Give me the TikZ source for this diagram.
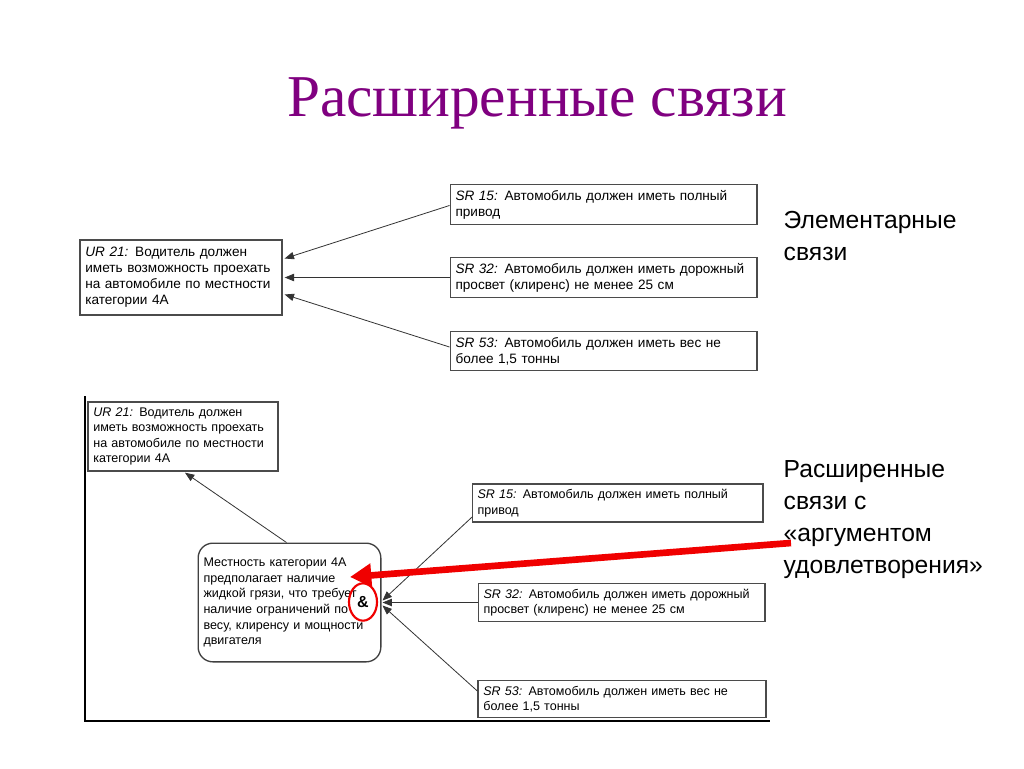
\documentclass[tikz,border=0pt]{standalone}
\usepackage{fontspec}
\setmainfont{Liberation Sans}
\newfontfamily\titlefont{Liberation Serif}
\usetikzlibrary{arrows.meta,calc,shapes.geometric}
\definecolor{titlepurple}{RGB}{128,0,128}
\definecolor{boxline}{RGB}{75,75,75}
\definecolor{redarr}{RGB}{240,0,0}
\tikzset{
  reqA/.style={draw=boxline, line width=1pt, fill=white, align=left, inner sep=4pt,
     font=\fontsize{10.2}{12}\selectfont},
  reqB/.style={draw=boxline, line width=1pt, fill=white, align=left, inner sep=4pt,
     font=\fontsize{9.4}{11.5}\selectfont},
  conn/.style={draw=black!80, line width=0.6pt, -{Triangle[length=7pt,width=5.5pt]}},
  frameline/.style={draw=black, line width=1.4pt},
  redarrow/.style={draw=redarr, line width=5pt, -{Triangle[length=16pt,width=17pt]}},
  sidelabel/.style={anchor=north west, align=left, font=\fontsize{18.5}{24}\selectfont},
}
\begin{document}
\begin{tikzpicture}[x=0.75pt,y=-0.75pt]
\path[fill=white,use as bounding box] (0,0) rectangle (1024,768);

\node[font=\titlefont\fontsize{44.5}{52}\selectfont, text=titlepurple] (title) at (537,103) {Расширенные связи};

% ---- top diagram ----
\node[reqA, text width=143.5pt, minimum height=56.25pt] (UR21a) at (181,277.5)
  {\textit{UR 21:} Водитель должен\\иметь возможность проехать\\на автомобиле по местности\\категории 4А};
\node[reqA, text width=222pt, minimum height=27pt] (SR15a) at (603.5,204.5)
  {\textit{SR 15:} Автомобиль должен иметь полный\\привод};
\node[reqA, text width=222pt, minimum height=27pt] (SR32a) at (603.5,277.5)
  {\textit{SR 32:} Автомобиль должен иметь дорожный\\просвет (клиренс) не менее 25 см};
\node[reqA, text width=222pt, minimum height=27pt] (SR53a) at (603.5,351)
  {\textit{SR 53:} Автомобиль должен иметь вес не\\более 1,5 тонны};

\draw[conn] ($(SR15a.west)+(0,1)$) -- ($(UR21a.east)+(2,-19)$);
\draw[conn] (SR32a.west) -- ($(UR21a.east)+(2,0)$);
\draw[conn] ($(SR53a.west)+(0,-4)$) -- ($(UR21a.east)+(2,17)$);

\node[sidelabel] (lab1) at (779,207) {Элементарные\\связи};

% ---- bottom diagram ----
\coordinate (ftop) at (85,396);
\coordinate (fbl) at (85,721);
\coordinate (fbr) at (770,721);
\draw[frameline] (ftop) -- (fbl) -- (fbr);

\node[reqB, text width=134.5pt, minimum height=51.75pt] (UR21b) at (183,436.5)
  {\textit{UR 21:} Водитель должен\\иметь возможность проехать\\на автомобиле по местности\\категории 4А};
\node[reqB, draw=black!75, rounded corners=11pt, text width=129pt, minimum height=89pt] (M) at (289.5,602.5)
  {\fontsize{9.4}{11.7}\selectfont Местность категории 4А\\предполагает наличие\\жидкой грязи, что требует\\наличие ограничений по\\весу, клиренсу и мощности\\двигателя};
\node[font=\bfseries\fontsize{12}{14}\selectfont, inner sep=0pt] (amp) at (363,602) {\&};
\node[draw=redarr, line width=1.6pt, ellipse, minimum width=21pt, minimum height=28pt, inner sep=0pt] (ring) at (363,602) {};

\node[reqB, text width=210pt, minimum height=25.5pt] (SR15b) at (617.5,503)
  {\textit{SR 15:} Автомобиль должен иметь полный\\привод};
\node[reqB, text width=207pt, minimum height=26pt] (SR32b) at (621.5,602.5)
  {\textit{SR 32:} Автомобиль должен иметь дорожный\\просвет (клиренс) не менее 25 см};
\node[reqB, text width=208pt, minimum height=25.5pt] (SR53b) at (622,699)
  {\textit{SR 53:} Автомобиль должен иметь вес не\\более 1,5 тонны};

\draw[conn] ($(M.north)+(-3,0)$) -- ($(UR21b.south)+(2,1)$);
\draw[conn] ($(SR15b.south west)+(1,-6)$) -- ($(M.east)+(1,-2)$);
\draw[conn] (SR32b.west) -- ($(M.east)+(1,0)$);
\draw[conn] ($(SR53b.west)+(0,-8)$) -- ($(M.east)+(1,3)$);

\coordinate (rs) at (791,543);
\coordinate (rt) at (350,577);
\draw[redarrow] (rs) -- (rt);

\node[sidelabel] (lab2) at (779,456) {Расширенные\\связи с\\«аргументом\\удовлетворения»};
\end{tikzpicture}
\end{document}
